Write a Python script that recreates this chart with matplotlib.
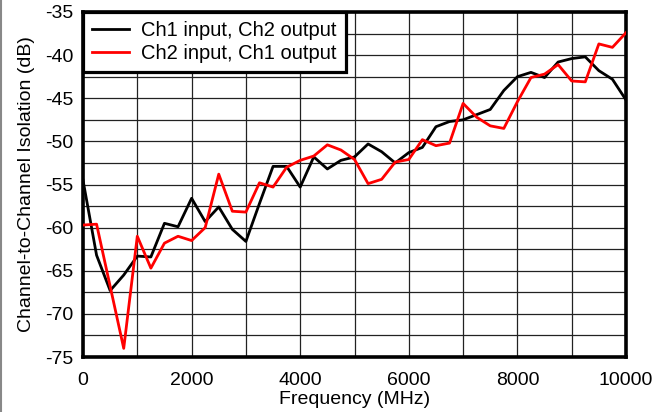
import numpy as np
import matplotlib
matplotlib.use("Agg")
import matplotlib.pyplot as plt
from matplotlib.lines import Line2D

plt.rcParams['font.family'] = ['Liberation Sans', 'DejaVu Sans']
plt.rcParams['axes.unicode_minus'] = False

# Frequency sweep (MHz), 250 MHz steps
freq_mhz = np.arange(0, 10001, 250)

ch1_in_ch2_out = [
    -54.5, -63.2, -67.3, -65.5, -63.3, -63.4, -59.5, -59.9, -56.6, -59.3,
    -57.6, -60.2, -61.6, -57.2, -52.9, -52.9, -55.3, -51.8, -53.2, -52.2,
    -51.8, -50.3, -51.2, -52.5, -51.3, -50.7, -48.3, -47.7, -47.5, -46.9,
    -46.3, -44.1, -42.5, -42.0, -42.6, -40.8, -40.4, -40.2, -41.8, -42.8,
    -45.2,
]

ch2_in_ch1_out = [
    -59.7, -59.6, -66.8, -74.0, -61.0, -64.7, -61.8, -61.0, -61.5, -60.0,
    -53.8, -58.1, -58.2, -54.8, -55.3, -53.0, -52.2, -51.7, -50.4, -51.0,
    -52.1, -54.9, -54.4, -52.4, -52.1, -49.8, -50.5, -50.2, -45.6, -47.2,
    -48.2, -48.5, -45.4, -42.6, -42.2, -41.1, -43.0, -43.1, -38.7, -39.1,
    -37.4,
]

series_labels = ["Ch1 input, Ch2 output", "Ch2 input, Ch1 output"]

x_ticks = [0, 2000, 4000, 6000, 8000, 10000]
y_ticks = [-75, -70, -65, -60, -55, -50, -45, -40, -35]

fig = plt.figure(figsize=(6.64, 4.12), dpi=100)
ax = fig.add_axes([83 / 664, 1 - 357 / 412, (626 - 83) / 664, (357 - 12) / 412])

ax.plot(freq_mhz, ch1_in_ch2_out, color='black', lw=2.0, label=series_labels[0], zorder=3)
ax.plot(freq_mhz, ch2_in_ch1_out, color='#ff0000', lw=2.0, label=series_labels[1], zorder=4)

ax.set_xlim(0, 10000)
ax.set_ylim(-75, -35)
ax.set_xticks(x_ticks)
ax.set_yticks(y_ticks)
ax.set_xticks(np.arange(0, 10001, 1000), minor=True)
ax.set_yticks(np.arange(-75, -34, 2.5), minor=True)

ax.grid(True, which='both', color='#222222', lw=0.9)
ax.set_axisbelow(True)
ax.tick_params(which='both', length=0)
ax.tick_params(axis='x', labelsize=14, pad=11)
ax.tick_params(axis='y', labelsize=14, pad=7)

for s in ax.spines.values():
    s.set_linewidth(2.6)
    s.set_color('black')

ax.set_xlabel("Frequency (MHz)", fontsize=14, labelpad=1)
ax.set_ylabel("Channel-to-Channel Isolation (dB)", fontsize=14, labelpad=7)

leg = ax.legend(loc='upper left', fontsize=14.5, frameon=True, fancybox=False,
                borderaxespad=0, handlelength=1.85, handletextpad=0.6,
                borderpad=0.45, labelspacing=0.2)
leg.get_frame().set_edgecolor('black')
leg.get_frame().set_linewidth(2.3)
leg.get_frame().set_alpha(1)
for h in leg.get_lines():
    h.set_linewidth(2.0)

# thin gray rule along the left edge of the figure
fig.add_artist(Line2D([0.002, 0.002], [0, 1], transform=fig.transFigure,
                      color='#888888', lw=1.5))

fig.savefig("out.png", dpi=100)
